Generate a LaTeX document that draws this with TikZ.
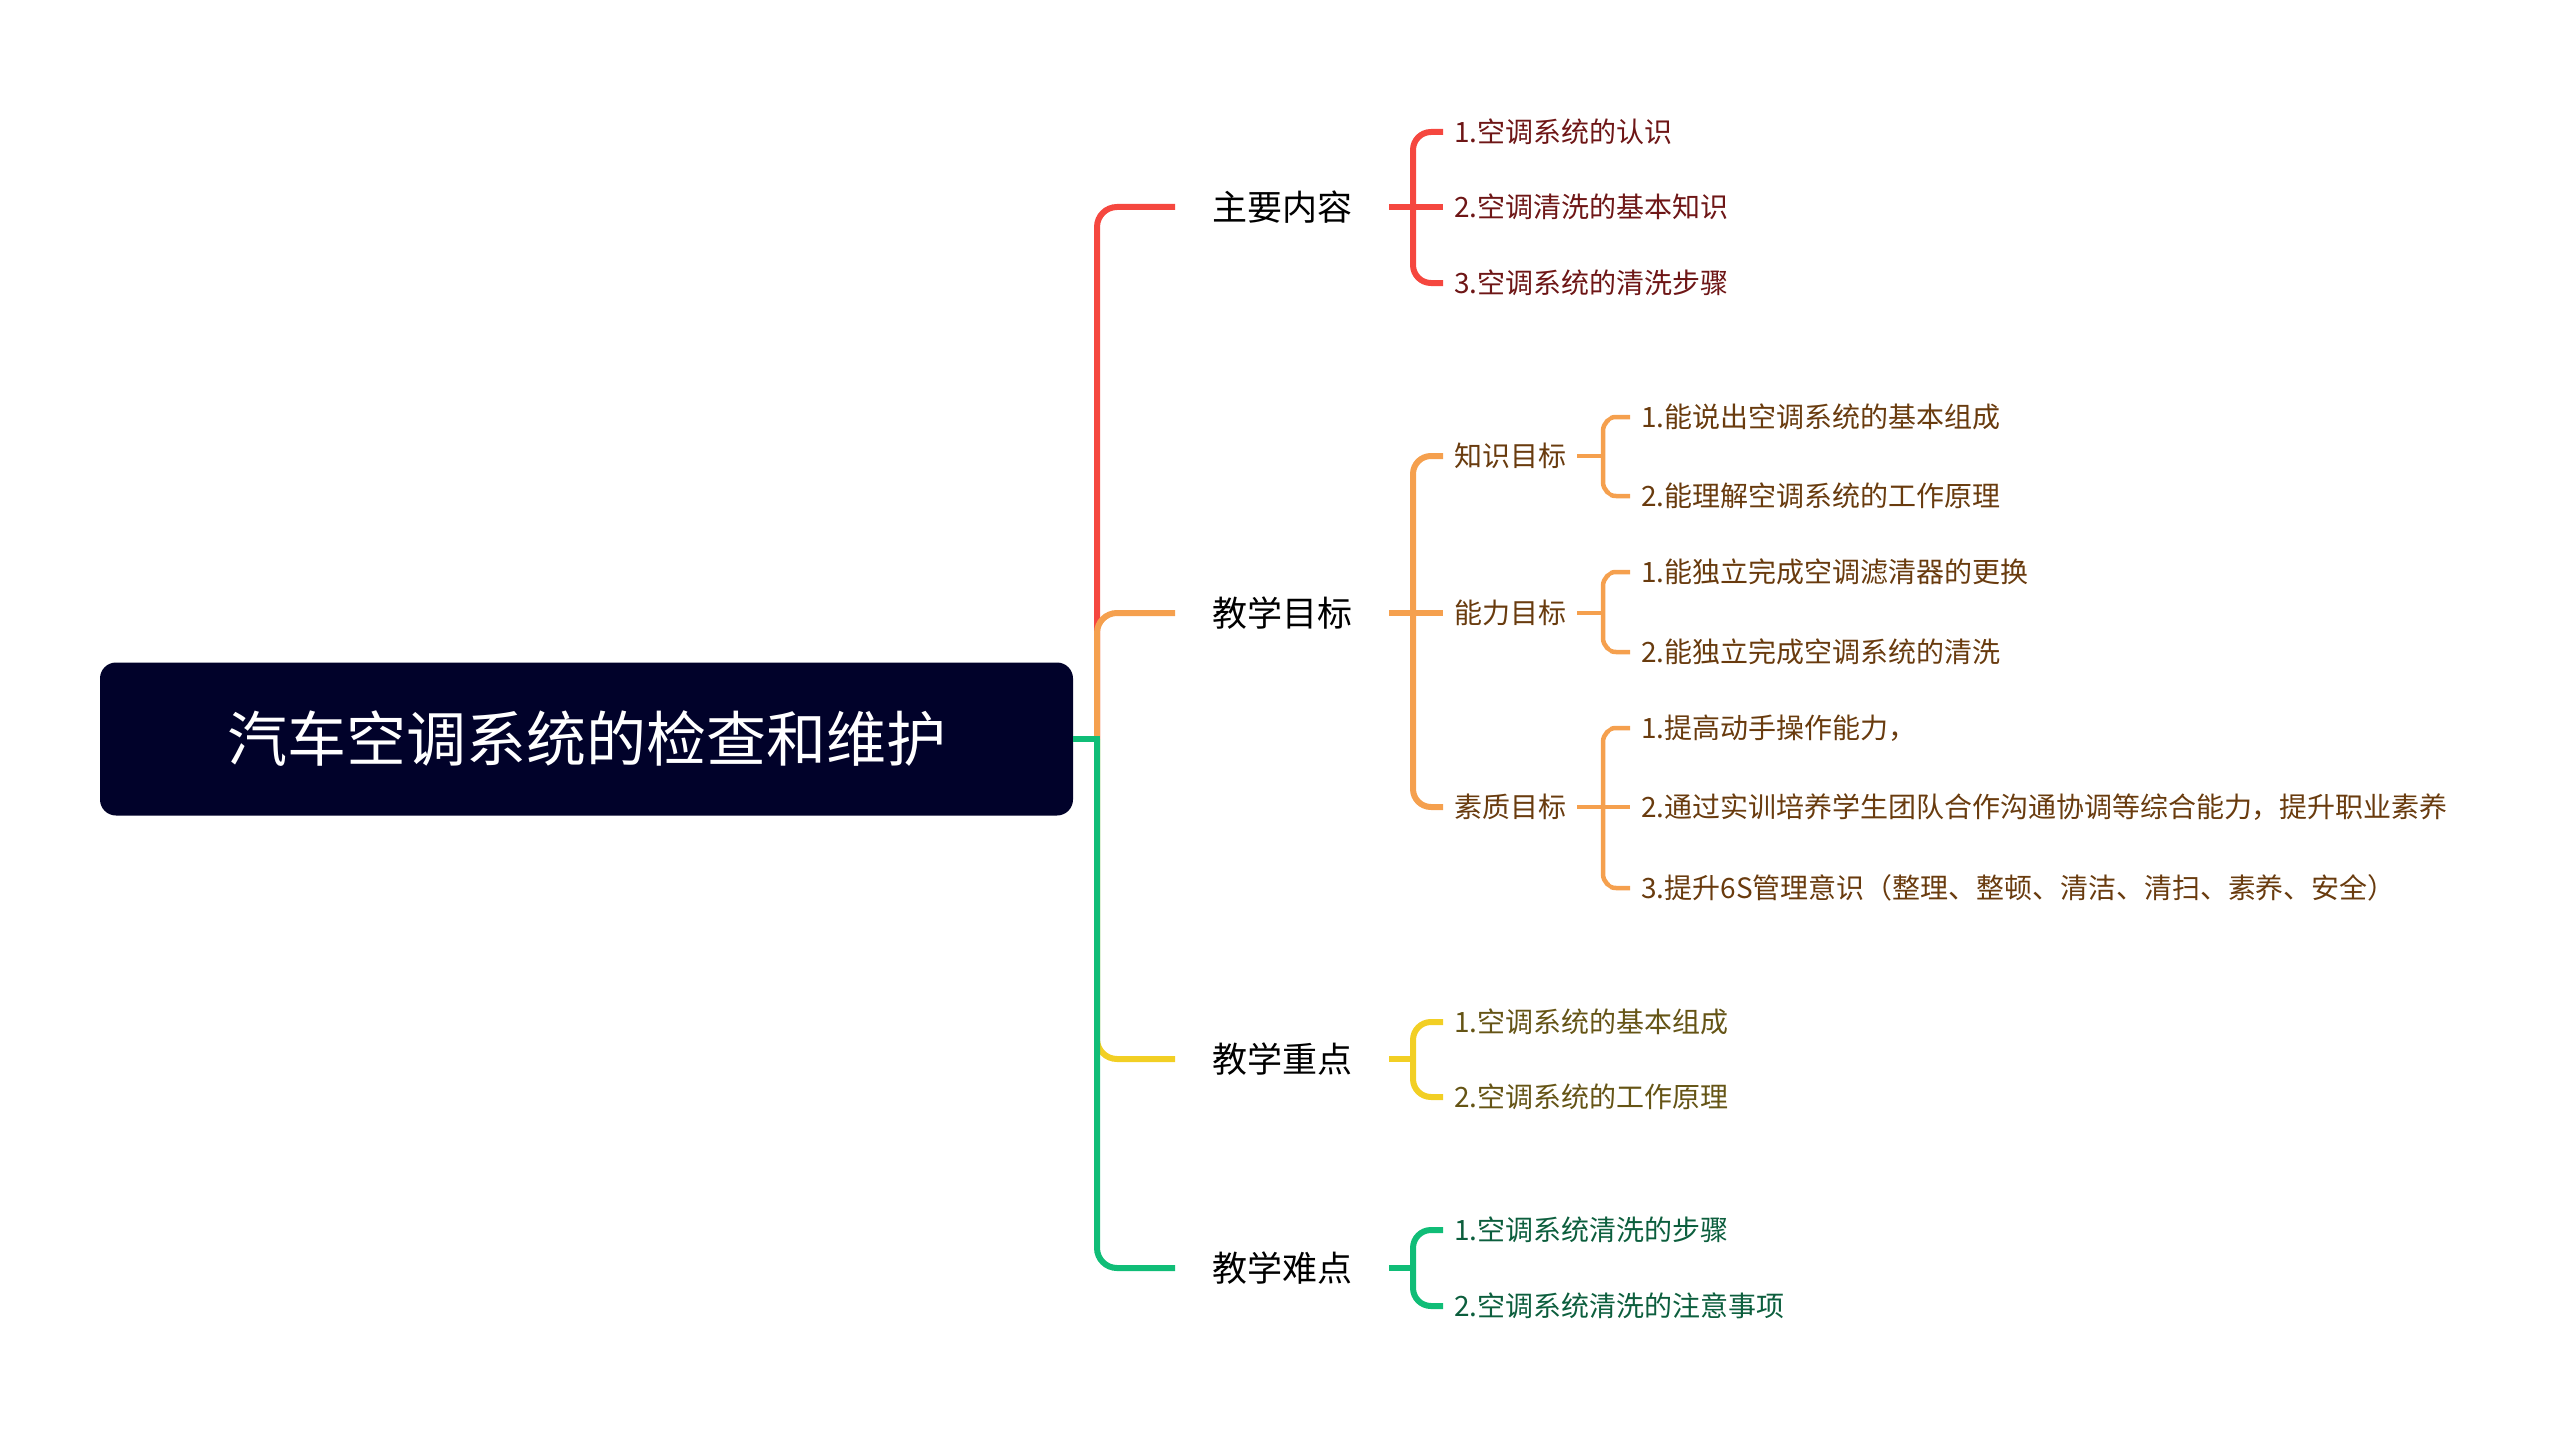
\documentclass[tikz,border=0pt]{standalone}
\usepackage{fontspec}
\setmainfont{Noto Sans CJK SC}
\usetikzlibrary{positioning}

\definecolor{rootnavy}{HTML}{01022A}
\definecolor{lred}{HTML}{F5473F}
\definecolor{lorange}{HTML}{F5A04E}
\definecolor{lyellow}{HTML}{F2CF24}
\definecolor{lgreen}{HTML}{10BD77}
\definecolor{tred}{HTML}{6E1616}
\definecolor{torange}{HTML}{693B0E}
\definecolor{tyellow}{HTML}{655415}
\definecolor{tgreen}{HTML}{0C5E3D}

\begin{document}
\begin{tikzpicture}[
      x=1pt, y=-1pt,
      trunk/.style={line width=6pt, rounded corners=20pt},
      brace/.style={line width=6pt, rounded corners=18pt},
      subbrace/.style={line width=4.5pt, rounded corners=14pt},
      rootbox/.style={fill=rootnavy, rounded corners=16pt, inner sep=0pt,
                      minimum width=975pt, minimum height=153pt,
                      text=white, font=\fontsize{60}{72}\selectfont},
      topic/.style={anchor=west, inner xsep=37pt, inner ysep=0pt,
                    font=\fontsize{35}{42}\selectfont},
      item/.style={anchor=west, inner xsep=11pt, inner ysep=0pt,
                   font=\fontsize{28}{34}\selectfont}]

    % Canvas: 1 unit = 1 px of the 2580 x 1442 sheet, y grows downwards
    \useasboundingbox (0,0) rectangle (2580,1442);

    % Root
    \node[rootbox] (root) at (587.5,740) {汽车空调系统的检查和维护};
    \coordinate (tj) at (1099,740);

    % Main topics
    \node[topic] (zy) at (1177,207)  {主要内容};
    \node[topic] (mb) at (1177,614)  {教学目标};
    \node[topic] (zd) at (1177,1060) {教学重点};
    \node[topic] (nd) at (1177,1270) {教学难点};

    \draw[trunk, lred]    (tj) |- (zy.west);
    \draw[trunk, lorange] (tj) |- (mb.west);
    \draw[trunk, lyellow] (tj) |- (zd.west);
    \draw[trunk, lgreen]  (tj) |- (nd.west);
    \draw[line width=6pt, lgreen] (root.east) -- ([xshift=3pt]tj);

    % === 主要内容 ===
    \coordinate (zyj) at (zy.east -| 1415,0);
    \foreach \t/\y [count=\i] in {1.空调系统的认识/132, 2.空调清洗的基本知识/207,
                                  3.空调系统的清洗步骤/283}
        \node[item, text=tred] (zy\i) at (1445,\y) {\t};
    \draw[brace, lred] (zy1.west) -| (zyj) |- (zy3.west);
    \draw[brace, lred] (zy.east) -- (zy2.west);

    % === 教学目标 ===
    \coordinate (mbj) at (mb.east -| 1415,0);
    \node[item, text=torange] (zs) at (1445,457) {知识目标};
    \node[item, text=torange] (nl) at (1445,614) {能力目标};
    \node[item, text=torange] (sz) at (1445,808) {素质目标};
    \draw[brace, lorange] (zs.west) -| (mbj) |- (sz.west);
    \draw[brace, lorange] (mb.east) -- (nl.west);

    % knowledge
    \coordinate (zsj) at (zs.east -| 1605,0);
    \node[item, text=torange] (zs1) at (1633,418) {1.能说出空调系统的基本组成};
    \node[item, text=torange] (zs2) at (1633,497) {2.能理解空调系统的工作原理};
    \draw[subbrace, lorange] (zs.east) -- (zsj);
    \draw[subbrace, lorange] (zs1.west) -| (zsj) |- (zs2.west);

    % ability
    \coordinate (nlj) at (nl.east -| 1605,0);
    \node[item, text=torange] (nl1) at (1633,573) {1.能独立完成空调滤清器的更换};
    \node[item, text=torange] (nl2) at (1633,653) {2.能独立完成空调系统的清洗};
    \draw[subbrace, lorange] (nl.east) -- (nlj);
    \draw[subbrace, lorange] (nl1.west) -| (nlj) |- (nl2.west);

    % quality
    \coordinate (szj) at (sz.east -| 1605,0);
    \node[item, text=torange] (sz1) at (1633,729) {1.提高动手操作能力，};
    \node[item, text=torange] (sz2) at (1633,808) {2.通过实训培养学生团队合作沟通协调等综合能力，提升职业素养};
    \node[item, text=torange] (sz3) at (1633,889) {3.提升6S管理意识（整理、整顿、清洁、清扫、素养、安全）};
    \draw[subbrace, lorange] (sz1.west) -| (szj) |- (sz3.west);
    \draw[subbrace, lorange] (sz.east) -- (sz2.west);

    % === 教学重点 ===
    \coordinate (zdj) at (zd.east -| 1415,0);
    \node[item, text=tyellow] (zd1) at (1445,1023) {1.空调系统的基本组成};
    \node[item, text=tyellow] (zd2) at (1445,1099) {2.空调系统的工作原理};
    \draw[brace, lyellow] (zd.east) -- (zdj);
    \draw[brace, lyellow] (zd1.west) -| (zdj) |- (zd2.west);

    % === 教学难点 ===
    \coordinate (ndj) at (nd.east -| 1415,0);
    \node[item, text=tgreen] (nd1) at (1445,1232) {1.空调系统清洗的步骤};
    \node[item, text=tgreen] (nd2) at (1445,1308) {2.空调系统清洗的注意事项};
    \draw[brace, lgreen] (nd.east) -- (ndj);
    \draw[brace, lgreen] (nd1.west) -| (ndj) |- (nd2.west);

\end{tikzpicture}
\end{document}
